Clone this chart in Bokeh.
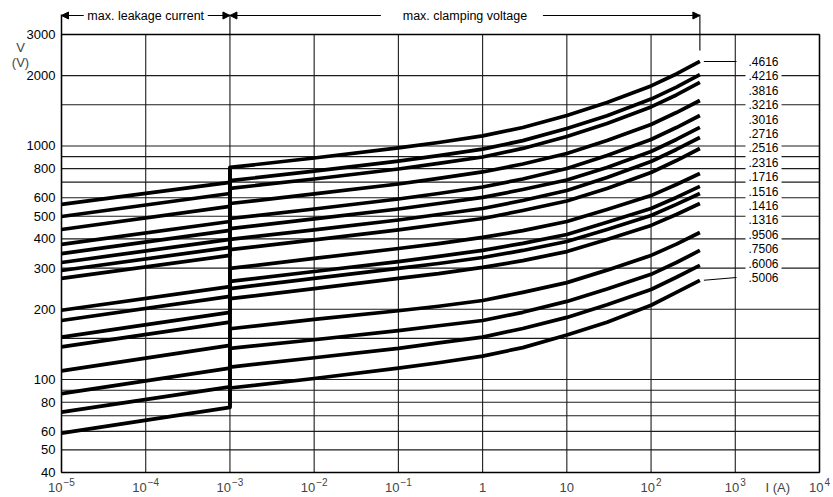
import math
from bokeh.plotting import figure
from bokeh.models import Label, Arrow, NormalHead, Range1d
from bokeh.embed import file_html
from bokeh.resources import INLINE

# ---------------- data ----------------
varistor_types = [".4616", ".4216", ".3816", ".3216", ".3016", ".2716", ".2516", ".2316",
                  ".1716", ".1516", ".1416", ".1316", ".9506", ".7506", ".6006", ".5006"]

leak_currents = [1e-5, 1e-3]
leak_v_low = [562, 499, 439, 379, 346, 317, 293, 271, 198, 179, 152, 138, 109, 87, 72.5, 59]
leak_v_high = [698, 626, 551, 475, 435, 398, 368, 340, 250, 227, 194, 176, 140, 112, 93, 76]

clamp_currents = [1e-3, 1e-2, 1e-1, 0.3, 1, 3, 10, 30, 100, 200, 380]
clamp_4616 = [809, 888, 981, 1035, 1104, 1200, 1351, 1535, 1807, 2033, 2300]
clamp_4216 = [710, 780, 861, 909, 969, 1054, 1187, 1348, 1587, 1786, 2020]
clamp_3816 = [658, 722, 797, 842, 897, 976, 1098, 1248, 1469, 1653, 1870]
clamp_3216 = [567, 623, 687, 726, 774, 837, 928, 1055, 1235, 1390, 1565]
clamp_3016 = [489, 537, 593, 626, 667, 722, 801, 910, 1066, 1199, 1350]
clamp_2716 = [443, 487, 537, 567, 602, 651, 715, 809, 947, 1066, 1200]
clamp_2516 = [398, 437, 482, 509, 540, 584, 645, 733, 858, 966, 1087]
clamp_2316 = [360, 396, 437, 461, 489, 529, 581, 657, 770, 866, 975]
clamp_1716 = [299, 330, 364, 382, 406, 434, 475, 534, 613, 684, 762]
clamp_1516 = [263, 290, 320, 337, 357, 383, 418, 471, 540, 602, 671]
clamp_1416 = [245, 271, 299, 314, 333, 357, 390, 439, 504, 562, 626]
clamp_1316 = [222, 245, 271, 284, 302, 323, 353, 398, 457, 509, 567]
clamp_9506 = [165, 181, 197, 206, 218, 236, 260, 294, 340, 380, 426]
clamp_7506 = [136, 148, 162, 170, 179, 194, 216, 244, 282, 317, 357]
clamp_6006 = [113, 124, 136, 143.5, 152, 165.5, 184.5, 209, 243, 274, 308]
clamp_5006 = [92, 101, 112, 118, 126, 137, 155, 176, 208, 236, 266]
clamp_v = [clamp_4616, clamp_4216, clamp_3816, clamp_3216, clamp_3016, clamp_2716,
           clamp_2516, clamp_2316, clamp_1716, clamp_1516, clamp_1416, clamp_1316,
           clamp_9506, clamp_7506, clamp_6006, clamp_5006]

y_tick_values = [40, 50, 60, 80, 100, 200, 300, 400, 500, 600, 800, 1000, 2000, 3000]
y_grid_values = [40, 50, 60, 70, 80, 90, 100, 150, 200, 300, 400, 500, 600, 700, 800,
                 900, 1000, 1500, 2000, 3000]
x_decades = [1e-5, 1e-4, 1e-3, 1e-2, 1e-1, 1, 10, 100, 1e3, 1e4]
x_tick_base = ["10", "10", "10", "10", "10", "1", "10", "10", "10", "10"]
x_tick_exp = ["\u22125", "\u22124", "\u22123", "\u22122", "\u22121", "", "", "2", "3", "4"]

header_left = "max. leakage current"
header_right = "max. clamping voltage"

# ---------------- layout (canvas pixel geometry) ----------------
FONT = "Liberation Sans"
W, H = 833, 497
FX0, FX1 = 61, 819      # canvas x of first / last decade
FY1, FY0 = 34, 472      # canvas y of top / bottom grid value
X0, X1 = x_decades[0], x_decades[-1]
Y0, Y1 = y_grid_values[0], y_grid_values[-1]
xdpp = math.log10(X1 / X0) / (FX1 - FX0)
ydpp = math.log10(Y1 / Y0) / (FY0 - FY1)


def xd(px):            # canvas x -> data
    return X0 * 10 ** ((px - FX0) * xdpp)


def yd(py):            # canvas y -> data
    return Y1 * 10 ** ((FY1 - py) * ydpp)


def xsh(v, px):        # shift data x by px pixels
    return v * 10 ** (px * xdpp)


def ysh(v, px):        # shift data y up by px pixels
    return v * 10 ** (px * ydpp)


p = figure(width=W, height=H, x_axis_type="log", y_axis_type="log",
           x_range=Range1d(xd(0), xd(W)), y_range=Range1d(yd(H), yd(0)),
           output_backend="svg", toolbar_location=None,
           min_border_left=0, min_border_right=0, min_border_top=0, min_border_bottom=0)
p.outline_line_color = None
p.xgrid.visible = False
p.ygrid.visible = False
p.xaxis.visible = False
p.yaxis.visible = False
p.background_fill_color = "white"
p.border_fill_color = "white"

GRID = "#1c1c1c"
ng = len(y_grid_values)
p.segment(x0=[X0] * ng, y0=y_grid_values, x1=[X1] * ng, y1=y_grid_values,
          line_color=GRID, line_width=1.1)
nd = len(x_decades)
p.segment(x0=x_decades, y0=[Y0] * nd, x1=x_decades, y1=[Y1] * nd,
          line_color=GRID, line_width=1.1)

hy = yd(15)
htop = yd(14)
p.segment(x0=[X0, X1, X0, X0], y0=[Y0, Y0, Y0, Y1], x1=[X0, X1, X1, X1], y1=[htop, Y1, Y0, Y1],
          line_color="black", line_width=1.5)
i_end = clamp_currents[-1]
p.segment(x0=[leak_currents[-1], i_end], y0=[Y1, ysh(Y1, -16)],
          x1=[leak_currents[-1], i_end], y1=[htop, htop],
          line_color="black", line_width=1.1)

# y tick labels
for v in y_tick_values:
    p.add_layout(Label(x=X0, y=v, text=str(v), text_font=FONT, text_font_size="13px",
                       text_align="right", text_baseline="middle", x_offset=-6,
                       text_color="black"))

# curves
xs, ys = [], []
for k in range(len(varistor_types)):
    xs.append(leak_currents + clamp_currents)
    ys.append([leak_v_low[k], leak_v_high[k]] + clamp_v[k])
p.multi_line(xs=xs, ys=ys, line_color="black", line_width=3.7, line_join="round")
p.segment(x0=[leak_currents[-1]], y0=[min(leak_v_high)], x1=[leak_currents[-1]],
          y1=[max(c[0] for c in clamp_v)], line_color="black", line_width=3.7)

# labels on the right
lab_x = xsh(X1, -74)
lab_y = [ysh(clamp_v[0][-1], -14.4 * i) for i in range(len(varistor_types))]
p.segment(x0=[xsh(i_end, 4), xsh(i_end, 4)], y0=[clamp_v[0][-1], clamp_v[-1][-1]],
          x1=[xsh(X1, -83), xsh(X1, -83)], y1=[lab_y[0], lab_y[-1]],
          line_color="black", line_width=1.1)
for t, yy in zip(varistor_types, lab_y):
    p.add_layout(Label(x=lab_x, y=yy, text=t, text_font=FONT, text_font_size="12px",
                       text_align="left", text_baseline="middle", text_color="black",
                       background_fill_color="white", padding=3))

# header arrows and texts
head = dict(size=7, fill_color="black", line_color="black")
c_leak = math.sqrt(leak_currents[0] * leak_currents[-1])
c_clamp = math.sqrt(leak_currents[-1] * i_end)
for xs_, xe_ in [(xsh(c_leak, -62), X0), (xsh(c_leak, 62), leak_currents[-1]),
                 (xsh(c_clamp, -84), leak_currents[-1]), (xsh(c_clamp, 78), i_end)]:
    p.add_layout(Arrow(end=NormalHead(**head), x_start=xs_, y_start=hy, x_end=xe_, y_end=hy,
                       line_color="black", line_width=1.1))
for t, cx in [(header_left, c_leak), (header_right, c_clamp)]:
    p.add_layout(Label(x=cx, y=hy, text=t, text_font=FONT, text_font_size="12.5px",
                       text_align="center", text_baseline="middle", text_color="black"))

# y axis title
p.add_layout(Label(x=xd(20), y=yd(47), text="V", text_font=FONT,
                   text_font_size="13px", text_align="center", text_baseline="middle"))
p.add_layout(Label(x=xd(20), y=yd(62), text="(V)", text_font=FONT,
                   text_font_size="13px", text_align="center", text_baseline="middle"))

# x tick labels with superscripts
MAIN, SUP = 13, 10
for xv, base, ex in zip(x_decades, x_tick_base, x_tick_exp):
    w_main = 0.556 * MAIN * len(base)
    w_sup = sum(0.584 if ch == "\u2212" else 0.556 for ch in ex) * SUP
    gap = 1 if ex else 0
    total = w_main + w_sup + gap
    p.add_layout(Label(x=xv, y=yd(487), text=base, text_font=FONT,
                       text_font_size=f"{MAIN}px", text_align="right", text_baseline="middle",
                       x_offset=-total / 2 + w_main))
    if ex:
        p.add_layout(Label(x=xv, y=yd(481), text=ex, text_font=FONT,
                           text_font_size=f"{SUP}px", text_align="left", text_baseline="middle",
                           x_offset=-total / 2 + w_main + gap))
p.add_layout(Label(x=xd(779), y=yd(487), text="I  (A)", text_font=FONT,
                   text_font_size="13px", text_align="center", text_baseline="middle"))

open("out.html", "w").write(file_html(p, INLINE))
